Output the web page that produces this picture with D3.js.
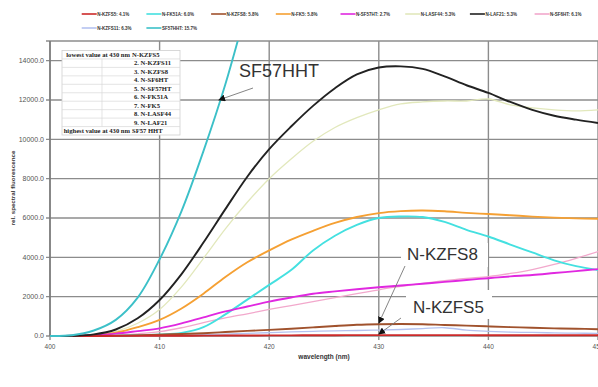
<!DOCTYPE html>
<html>
<head>
<meta charset="utf-8">
<script src="https://cdn.jsdelivr.net/npm/d3@7"></script>
<style>
  body { margin: 0; background: #fff; }
  svg { display: block; font-family: "Liberation Sans", Arial, sans-serif; }
</style>
</head>
<body>
<div id="chart"></div>
<script>
// wavelength in nm
const wavelengths = [400,402,404,406,408,410,412,414,416,418,420,422,424,426,428,430,432,434,436,438,440,442,444,446,448,450];

// relative spectral fluorescence
const kzfs5   = [0,0,2,5,8,12,15,18,22,26,30,34,38,41,43,45,45,44,43,42,40,39,38,37,36,35];
const fk51a   = [0,0,5,15,40,80,160,450,1100,1850,2600,3350,4350,5100,5650,6000,6080,6050,5800,5400,5060,4650,4250,3850,3550,3350];
const kzfs8   = [0,0,5,15,40,70,100,140,200,260,310,370,440,510,570,600,610,600,560,530,490,450,420,390,370,345];
const fk5     = [0,5,40,170,450,820,1400,2150,3000,3750,4350,4900,5350,5750,6050,6250,6350,6380,6340,6260,6200,6140,6070,6020,5980,5960];
const sf57ht  = [0,5,40,120,250,390,640,950,1250,1500,1750,1960,2150,2270,2380,2480,2570,2660,2750,2850,2940,3030,3100,3200,3300,3400];
const lasf44  = [0,5,50,230,650,1350,2500,3950,5450,6800,8000,9000,9900,10600,11100,11500,11800,11900,11950,11950,12050,11750,11600,11500,11450,11500];
const laf21   = [0,10,80,330,900,1830,3150,4750,6450,8100,9500,10650,11700,12600,13300,13650,13710,13580,13200,12750,12360,11900,11500,11200,11000,10830];
const sf6ht   = [0,0,10,40,110,220,420,680,920,1130,1350,1550,1750,1950,2150,2350,2520,2680,2820,2930,3020,3180,3380,3640,3950,4290];
const kzfs11  = [0,0,2,5,10,20,40,70,100,130,170,210,240,260,280,300,330,380,420,300,240,200,180,160,145,135];
const sf57hht = [0,40,280,820,1950,3900,6350,9400,12800,16800];

const seriesNames = ["N-KZFS5","N-FK51A","N-KZFS8","N-FK5","N-SF57HT","N-LASF44","N-LAF21","N-SF6HT","N-KZFS11","SF57HHT"];
const seriesShares = ["4.1%","6.0%","5.8%","5.8%","2.7%","5.3%","5.3%","6.1%","6.3%","15.7%"];
const seriesColors = ["#cc2a2a","#44e0e0","#a0522d","#f5a033","#e028e0","#e2e8bc","#222222","#f2a8cc","#b4c2f0","#3cc0c8"];
const seriesValues = [kzfs5, fk51a, kzfs8, fk5, sf57ht, lasf44, laf21, sf6ht, kzfs11, sf57hht];

const yTicks = [0,2000,4000,6000,8000,10000,12000,14000];
const xTicks = [400,410,420,430,440,450];

const rankRows = ["2. N-KZFS11","3. N-KZFS8","4. N-SF6HT","5. N-SF57HT","6. N-FK51A","7. N-FK5","8. N-LASF44","9. N-LAF21"];

const width = 598, height = 387;
const margin = {top: 41, right: 0, bottom: 51, left: 50};

const svg = d3.select("#chart").append("svg")
    .attr("width", width)
    .attr("height", height);

let x = d3.scaleLinear().domain([400, 450]).range([margin.left, 598]);
let y = d3.scaleLinear().domain([0, 15000]).range([height - margin.bottom, margin.top]);

svg.append("clipPath").attr("id", "plot-clip")
    .append("rect")
    .attr("x", margin.left).attr("y", margin.top)
    .attr("width", 598 - margin.left).attr("height", y(0) - margin.top + 2);

// grid
let grid = svg.append("g");
grid.selectAll(".hg")
    .data(yTicks.concat([15000]))
    .enter().append("line")
    .attr("x1", margin.left - 4).attr("x2", 598)
    .attr("y1", d => y(d)).attr("y2", d => y(d))
    .attr("stroke", "#8c8c8c")
    .attr("stroke-width", 1.4);
grid.selectAll(".vg")
    .data(xTicks)
    .enter().append("line")
    .attr("x1", d => x(d)).attr("x2", d => x(d))
    .attr("y1", margin.top).attr("y2", y(0) + 4)
    .attr("stroke", "#8c8c8c")
    .attr("stroke-width", 1.4);

// white boxes behind the callouts
svg.append("rect").attr("x", 401).attr("y", 243).attr("width", 87).attr("height", 24).attr("fill", "#fff");
svg.append("rect").attr("x", 406).attr("y", 290).attr("width", 86).attr("height", 29).attr("fill", "#fff");

// inset table
let tab = svg.append("g");
let tx0 = 62, tx1 = 180, ty0 = 50.5, rowH = 8.45;
tab.append("rect")
    .attr("x", tx0).attr("y", ty0)
    .attr("width", tx1 - tx0).attr("height", rowH * 10)
    .attr("fill", "#fff")
    .attr("stroke", "#cfcfcf")
    .attr("stroke-width", 0.8);
d3.range(1, 10).forEach(i => {
    tab.append("line")
        .attr("x1", tx0).attr("x2", tx1)
        .attr("y1", ty0 + i * rowH).attr("y2", ty0 + i * rowH)
        .attr("stroke", "#d8d8d8").attr("stroke-width", 0.7);
});
tab.append("line")
    .attr("x1", 102).attr("x2", 102)
    .attr("y1", ty0 + rowH).attr("y2", ty0 + rowH * 9)
    .attr("stroke", "#d8d8d8").attr("stroke-width", 0.7);

let tabFont = "'Liberation Serif', 'Times New Roman', serif";
tab.append("text").attr("x", 130).attr("y", ty0 + rowH - 2)
    .attr("text-anchor", "end").attr("font-family", tabFont)
    .attr("font-weight", "bold").attr("font-size", 6.6).attr("fill", "#222")
    .text("lowest value at 430 nm");
tab.append("text").attr("x", 132).attr("y", ty0 + rowH - 2)
    .attr("font-family", tabFont)
    .attr("font-weight", "bold").attr("font-size", 6.6).attr("fill", "#222")
    .text("N-KZFS5");
rankRows.forEach((r, i) => {
    tab.append("text").attr("x", 134).attr("y", ty0 + rowH * (i + 2) - 2)
        .attr("font-family", tabFont)
        .attr("font-weight", "bold").attr("font-size", 6.6).attr("fill", "#222")
        .text(r);
});
tab.append("text").attr("x", 130).attr("y", ty0 + rowH * 10 - 2)
    .attr("text-anchor", "end").attr("font-family", tabFont)
    .attr("font-weight", "bold").attr("font-size", 6.6).attr("fill", "#222")
    .text("highest value at 430 nm");
tab.append("text").attr("x", 132).attr("y", ty0 + rowH * 10 - 2)
    .attr("font-family", tabFont)
    .attr("font-weight", "bold").attr("font-size", 6.6).attr("fill", "#222")
    .text("SF57 HHT");

// left axis line
svg.append("line")
    .attr("x1", margin.left).attr("x2", margin.left)
    .attr("y1", margin.top).attr("y2", y(0))
    .attr("stroke", "#777").attr("stroke-width", 1.4);

// curves
let line = d3.line()
    .x((d, i) => x(wavelengths[i]))
    .y(d => y(d))
    .curve(d3.curveCatmullRom.alpha(0.5));

let curves = svg.append("g").attr("clip-path", "url(#plot-clip)");
// draw order so the heavy lines sit on top
[5, 7, 8, 1, 3, 4, 2, 0, 6, 9].forEach(k => {
    curves.append("path")
        .datum(seriesValues[k])
        .attr("d", line)
        .attr("fill", "none")
        .attr("stroke", seriesColors[k])
        .attr("stroke-width", k == 5 || k == 7 || k == 8 ? 1.3 : 1.9);
});

// tick labels
svg.selectAll(".ytl")
    .data(yTicks)
    .enter().append("text")
    .attr("x", 44).attr("y", d => y(d) + 2.4)
    .attr("text-anchor", "end")
    .attr("font-size", 7).attr("fill", "#555")
    .text(d => d3.format(".1f")(d));
svg.selectAll(".xtl")
    .data(xTicks)
    .enter().append("text")
    .attr("x", d => x(d)).attr("y", 349)
    .attr("text-anchor", "middle")
    .attr("font-size", 6.5).attr("fill", "#555")
    .text(d => d);

// axis titles
svg.append("text")
    .attr("x", 324).attr("y", 359)
    .attr("text-anchor", "middle")
    .attr("font-size", 6.5).attr("font-weight", "bold").attr("fill", "#333")
    .text("wavelength (nm)");
svg.append("text")
    .attr("transform", "translate(15,188) rotate(-90)")
    .attr("text-anchor", "middle")
    .attr("font-size", 6.2).attr("font-weight", "bold").attr("fill", "#333")
    .text("rel. spectral fluorescence");

// callouts
svg.append("defs").append("marker")
    .attr("id", "arrow")
    .attr("viewBox", "0 0 10 10")
    .attr("refX", 9).attr("refY", 5)
    .attr("markerWidth", 7).attr("markerHeight", 7)
    .attr("markerUnits", "userSpaceOnUse")
    .attr("orient", "auto")
    .append("path").attr("d", "M0,0L10,5L0,10z").attr("fill", "#111");

const callouts = [
    {text: "SF57HHT", tx: 239, ty: 77, size: 18, from: [253, 88], to: [x(415.4), y(12000)]},
    {text: "N-KZFS8", tx: 407, ty: 260, size: 17, from: [405, 266], to: [x(430), y(600) - 1]},
    {text: "N-KZFS5", tx: 413, ty: 313, size: 17, from: [401, 318], to: [x(430), y(45) - 1]}
];
callouts.forEach(c => {
    svg.append("text")
        .attr("x", c.tx).attr("y", c.ty)
        .attr("font-size", c.size).attr("fill", "#333")
        .text(c.text);
    svg.append("line")
        .attr("x1", c.from[0]).attr("y1", c.from[1])
        .attr("x2", c.to[0]).attr("y2", c.to[1])
        .attr("stroke", "#777").attr("stroke-width", 0.9)
        .attr("marker-end", "url(#arrow)");
});

// legend
let legend = svg.append("g");
seriesNames.forEach((name, i) => {
    let row = i < 8 ? 0 : 1;
    let col = i < 8 ? i : i - 8;
    let lx = 81.7 + col * 64.7;
    let ly = row == 0 ? 14 : 28;
    legend.append("line")
        .attr("x1", lx).attr("x2", lx + 15)
        .attr("y1", ly).attr("y2", ly)
        .attr("stroke", seriesColors[i])
        .attr("stroke-width", 1.6);
    legend.append("text")
        .attr("x", lx + 15.5).attr("y", ly + 1.6)
        .attr("font-size", 4.5).attr("font-weight", "bold").attr("fill", "#333")
        .text(name + ": " + seriesShares[i]);
});
</script>
</body>
</html>
